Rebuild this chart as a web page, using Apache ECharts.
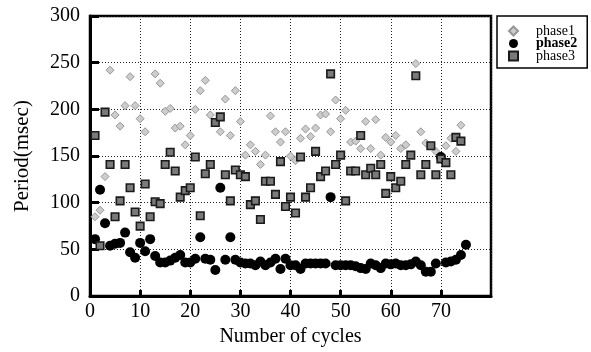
<!DOCTYPE html>
<html>
<head>
<meta charset="utf-8">
<script src="https://cdn.jsdelivr.net/npm/echarts@6/dist/echarts.min.js"></script>
<style>
  html, body { margin: 0; padding: 0; background: #fff; }
  #chart { width: 591px; height: 352px; }
</style>
</head>
<body>
<div id="chart"></div>
<script>
// Period of each phase (msec) per cycle, cycles 1..75; null = no reading
const phase1 = [85, 92, 128, 242, 194, 182, 204, 235, 204, 190,
  176, null, 238, 228, 198, 201, 180, 182, 162, 172,
  200, 220, 231, 194, null, 176, 211, 172, 220, 187,
  151, 162, 155, 141, 151, 193, 176, 165, 176, 150,
  145, 169, 179, 171, 180, 194, 195, 176, 210, 190,
  199, 165, 166, 158, 187, 158, 189, 151, 170, 165,
  172, 158, 162, null, 249, 176, 164, null, 155, null,
  161, 169, 155, 183, null];

const phase2 = [61, 114, 78, 54, 56, 57, 68, 47, 41, 57,
  48, 61, 43, 36, 36, 38, 41, 44, 36, 36,
  40, 63, 40, 39, 28, 116, 39, 63, 39, 36,
  35, 35, 33, 37, 33, 36, 40, 29, 40, 33,
  33, 29, 35, 35, 35, 35, 35, 106, 33, 33,
  33, 33, 32, 30, 29, 35, 33, 30, 35, 34,
  35, 33, 33, 34, 37, 33, 26, 26, 35, 149,
  36, 37, 39, 44, 55];

const phase3 = [172, 54, 197, 141, 85, 102, 141, 116, 90, 75,
  120, 85, 101, 99, 141, 154, 134, 106, 113, 116,
  149, 86, 131, 141, 186, 192, 130, 102, 135, 130,
  128, 98, 102, 82, 123, 123, 109, 144, 96, 106,
  89, 149, 106, 116, 155, 128, 134, 238, 141, 151,
  102, 134, 134, 172, 130, 137, 130, 141, 110, 128,
  116, 123, 141, 151, 236, 130, 141, 161, 130, 147,
  143, 130, 170, 166, null];

const xTicks = { min: 0, max: 80, step: 10 };
const yTicks = { min: 0, max: 300, step: 50 };

function toPoints(values) {
  const pts = [];
  values.forEach((v, i) => { if (v !== null) pts.push([i + 1, v]); });
  return pts;
}

const serif = '"Liberation Serif", "DejaVu Serif", serif';

const phase1Style = { color: '#cdcdcd', borderColor: '#969696', borderWidth: 1, opacity: 1 };
const phase2Style = { color: '#000', opacity: 1 };
const phase3Style = { color: '#7a7a7a', borderColor: '#1a1a1a', borderWidth: 1.6, opacity: 1 };

const chart = echarts.init(document.getElementById('chart'), null, { renderer: 'canvas' });

chart.setOption({
  animation: false,
  backgroundColor: '#fff',
  grid: {
    left: 90, right: 100, top: 16, bottom: 52,
    show: true, borderColor: '#000', borderWidth: 2.5, backgroundColor: 'transparent'
  },
  legend: {
    orient: 'vertical',
    left: 497, top: 16,
    padding: [8, 10, 5, 11],
    itemWidth: 9, itemHeight: 9, itemGap: -1.5,
    borderColor: '#000', borderWidth: 1.5,
    textStyle: { fontFamily: serif, fontSize: 14, color: '#000', padding: [0, 0, 0, 13] },
    data: [
      { name: 'phase1', icon: 'diamond' },
      { name: 'phase2', icon: 'circle', textStyle: { fontWeight: 'bold' } },
      { name: 'phase3', icon: 'rect' }
    ]
  },
  xAxis: {
    type: 'value', min: xTicks.min, max: xTicks.max, interval: xTicks.step,
    name: 'Number of cycles', nameLocation: 'middle', nameGap: 27,
    nameTextStyle: { fontFamily: serif, fontSize: 20, color: '#000' },
    axisLine: { show: true, lineStyle: { color: '#000', width: 3 } },
    axisTick: { show: true, inside: true, length: 6, lineStyle: { color: '#000', width: 3 } },
    axisLabel: { showMaxLabel: false, margin: 6, fontFamily: serif, fontSize: 20, color: '#000' },
    splitLine: { show: true, lineStyle: { color: '#222', width: 1, type: [1, 2] } }
  },
  yAxis: {
    type: 'value', min: yTicks.min, max: yTicks.max, interval: yTicks.step,
    name: 'Period(msec)', nameLocation: 'middle', nameGap: 57,
    nameTextStyle: { fontFamily: serif, fontSize: 21, color: '#000' },
    axisLine: { show: true, lineStyle: { color: '#000', width: 3 } },
    axisTick: { show: true, inside: true, length: 9, lineStyle: { color: '#000', width: 3 } },
    axisLabel: { margin: 10, fontFamily: serif, fontSize: 20, color: '#000' },
    splitLine: { show: true, lineStyle: { color: '#222', width: 1, type: [1, 2] } }
  },
  series: [
    {
      name: 'phase1', type: 'scatter', symbol: 'diamond', symbolSize: 8,
      itemStyle: phase1Style,
      data: toPoints(phase1)
    },
    {
      name: 'phase2', type: 'scatter', symbol: 'circle', symbolSize: 10,
      itemStyle: phase2Style,
      data: toPoints(phase2)
    },
    {
      name: 'phase3', type: 'scatter', symbol: 'rect', symbolSize: 7.5,
      itemStyle: phase3Style,
      data: toPoints(phase3)
    }
  ]
});
</script>
</body>
</html>
